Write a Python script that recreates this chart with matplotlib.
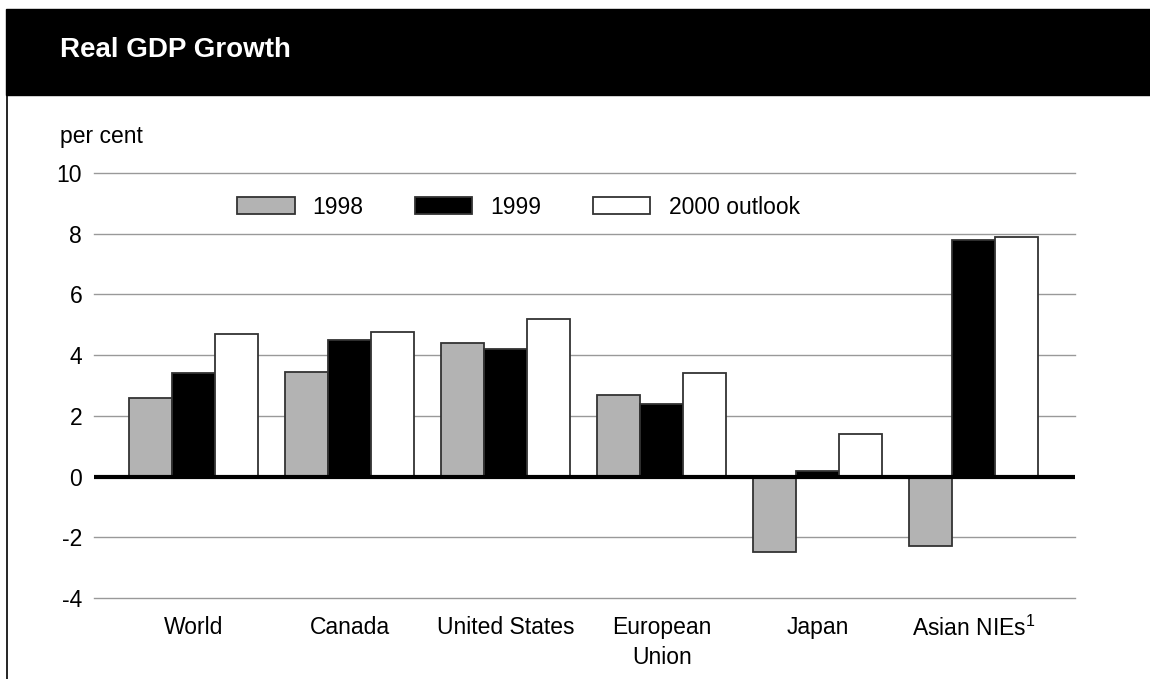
import matplotlib
matplotlib.use("Agg")
import matplotlib.pyplot as plt
import numpy as np
from matplotlib.patches import Rectangle

# -----------------------------
# Data
# -----------------------------
regions = ["World", "Canada", "United States", "European\nUnion", "Japan", "Asian NIEs$^1$"]
growth_1998 = [2.6, 3.45, 4.4, 2.7, -2.5, -2.3]
growth_1999 = [3.4, 4.5, 4.2, 2.4, 0.2, 7.8]
growth_2000 = [4.7, 4.75, 5.2, 3.4, 1.4, 7.9]
series_labels = ["1998", "1999", "2000 outlook"]
y_ticks = [-4, -2, 0, 2, 4, 6, 8, 10]

# -----------------------------
# Fonts
# -----------------------------
plt.rcParams["font.family"] = ["Liberation Sans", "DejaVu Sans"]
plt.rcParams["mathtext.default"] = "regular"
font_size = 16.5

# -----------------------------
# Figure
# -----------------------------
fig = plt.figure(figsize=(11.5, 6.79), dpi=100)
W, H = 1150, 679

# header bar and left border
fig.patches.append(Rectangle((6 / W, 1 - 95 / H), 1 - 6 / W, 86 / H,
                             transform=fig.transFigure, color="black"))
fig.lines.append(plt.Line2D([6.5 / W, 6.5 / W], [0, 1 - 95 / H],
                            transform=fig.transFigure, color="black", lw=1.2))

fig.text(60 / W, 1 - 57 / H, "Real GDP Growth", color="white",
         fontsize=20, fontweight="bold",
         family=["Liberation Sans Narrow", "Liberation Sans"], va="baseline")

fig.text(60 / W, 1 - 143 / H, "per cent", fontsize=font_size, va="baseline")

ax = fig.add_axes([94 / W, 81 / H, 981 / W, 425 / H])

# -----------------------------
# Bars
# -----------------------------
x = np.arange(len(regions))
width = 0.275

colors = ["#b3b3b3", "black", "white"]
all_series = [growth_1998, growth_1999, growth_2000]

for i, (vals, col, lab) in enumerate(zip(all_series, colors, series_labels)):
    ax.bar(x + (i - 1) * width, vals, width, color=col,
           edgecolor="#333333", linewidth=1.3, label=lab, zorder=3)

# -----------------------------
# Axes styling
# -----------------------------
ax.set_xlim(-0.64, 5.65)
ax.set_ylim(-4, 10)
ax.set_yticks(y_ticks)
ax.set_yticklabels([str(t) for t in y_ticks], fontsize=font_size)
ax.tick_params(axis="y", length=0, pad=8.5)

for t in y_ticks:
    if t != 0:
        ax.axhline(t, color="#999999", linewidth=1, zorder=1, clip_on=False)
ax.axhline(0, color="black", linewidth=3, zorder=4)

ax.set_xticks(x)
ax.set_xticklabels(regions, fontsize=font_size, va="top", linespacing=1.4)
ax.tick_params(axis="x", length=0, pad=13)

for s in ax.spines.values():
    s.set_visible(False)

# -----------------------------
# Legend
# -----------------------------
ax.legend(loc="center left", bbox_to_anchor=(0.146, 0.92), ncol=3,
          frameon=False, fontsize=font_size, handlelength=2.5,
          handleheight=0.74, handletextpad=0.79, columnspacing=2.25,
          borderpad=0, borderaxespad=0)

plt.savefig("out.png", dpi=100)
plt.close()
